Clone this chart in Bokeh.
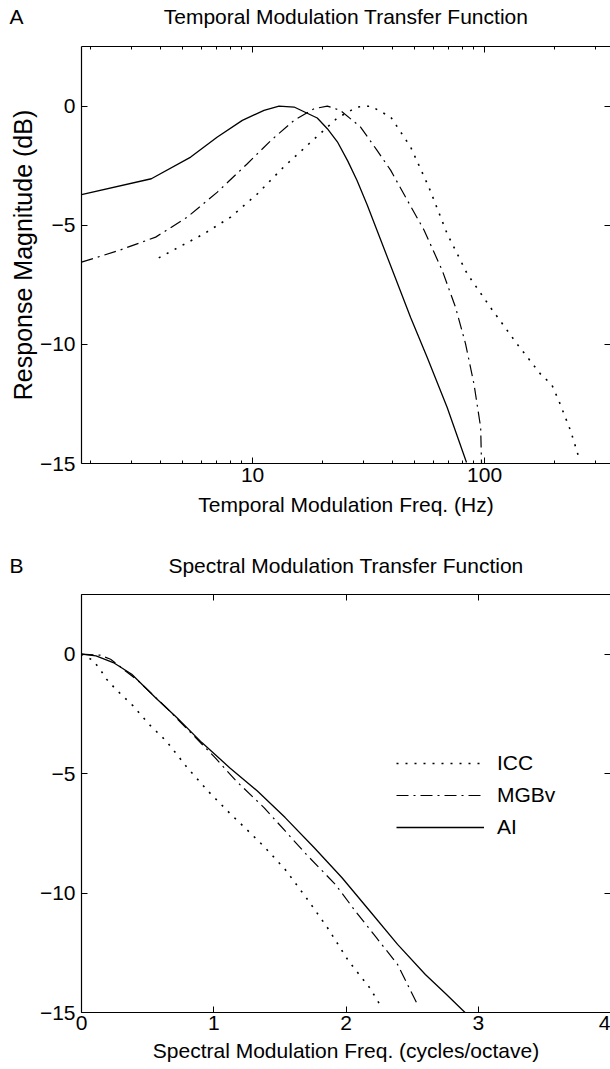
from bokeh.plotting import figure
from bokeh.models import (FixedTicker, CustomJSTickFormatter, LinearAxis, LogAxis,
                          Range1d, Label, Legend, LegendItem)
from bokeh.layouts import column
from bokeh.embed import file_html
from bokeh.resources import INLINE

FONT = "Liberation Sans"
FS = "21px"

# ---------------- Panel A: Temporal MTF (x = Hz, log) ----------------
tmtf_ai_freq = [1.83, 3.66, 5.41, 7.05, 9.03, 11.2, 13.0, 15.1, 17.2, 19.0, 21.0, 23.2,
                25.7, 28.2, 31.2, 34.4, 40.6, 48.0, 56.6, 69.0, 83.6]
tmtf_ai_db = [-3.72, -3.05, -2.14, -1.30, -0.60, -0.18, 0.0, -0.04, -0.30, -0.50, -0.95, -1.50,
              -2.30, -3.12, -4.15, -5.22, -7.04, -8.87, -10.55, -12.65, -14.96]

tmtf_mgbv_freq = [1.83, 2.65, 3.82, 5.23, 7.05, 9.49, 12.0, 15.1, 18.4, 21.0, 23.9, 29.2,
                  34.4, 39.4, 46.5, 54.8, 65.7, 75.0, 82.8, 90.0, 96.2, 97.0]
tmtf_mgbv_db = [-6.55, -6.06, -5.50, -4.66, -3.61, -2.42, -1.44, -0.60, -0.11, 0.0, -0.18, -0.88,
                -1.86, -2.70, -3.96, -5.20, -6.90, -8.45, -9.98, -11.66, -13.49, -15.0]

tmtf_icc_freq = [3.94, 4.81, 6.17, 8.04, 10.5, 13.6, 17.2, 23.2, 28.2, 32.3, 39.4, 48.0,
                 57.5, 69.0, 84.2, 106, 138, 174, 195, 209, 235, 255]
tmtf_icc_db = [-6.37, -5.92, -5.36, -4.66, -3.68, -2.56, -1.65, -0.50, -0.04, 0.0, -0.46, -1.72,
               -3.40, -5.36, -7.04, -8.45, -9.98, -11.24, -11.70, -12.37, -13.63, -14.75]

# ---------------- Panel B: Spectral MTF (x = cycles/octave) ----------------
smtf_ai_x = [0.0, 0.11, 0.24, 0.38, 0.56, 0.72, 0.91, 1.12, 1.33, 1.54, 1.76, 1.97,
             2.18, 2.39, 2.60, 2.76, 2.90]
smtf_ai_db = [0.0, -0.07, -0.35, -0.84, -1.82, -2.65, -3.70, -4.75, -5.73, -6.84, -8.10, -9.36,
              -10.75, -12.15, -13.41, -14.25, -15.0]

smtf_mgbv_x = [0.0, 0.14, 0.22, 0.43, 0.64, 0.85, 1.01, 1.17, 1.38, 1.54, 1.70, 1.92,
               2.07, 2.23, 2.39, 2.54]
smtf_mgbv_db = [0.0, -0.04, -0.21, -1.12, -2.23, -3.42, -4.33, -5.31, -6.42, -7.40, -8.38, -9.64,
                -10.75, -11.87, -12.99, -14.66]

smtf_icc_x = [0.0, 0.085, 0.14, 0.19, 0.26, 0.32, 0.39, 0.51, 0.64, 0.80, 0.96, 1.12,
              1.27, 1.38, 1.54, 1.70, 1.86, 2.02, 2.18, 2.27]
smtf_icc_db = [0.0, -0.25, -0.63, -1.05, -1.47, -1.79, -2.16, -2.93, -3.63, -4.75, -5.75, -6.65,
               -7.45, -8.05, -9.01, -10.20, -11.45, -12.85, -13.97, -14.80]

y_ticks = [-15, -10, -5, 0]
tmtf_x_ticks = [10, 100]
tmtf_x_minor = [2, 3, 4, 5, 6, 7, 8, 9, 20, 30, 40, 50, 60, 70, 80, 90, 200, 300]
smtf_x_ticks = [0, 1, 2, 3, 4]

labels_series = ["ICC", "MGBv", "AI"]
titles = ["Temporal Modulation Transfer Function", "Spectral Modulation Transfer Function"]
xlabels = ["Temporal Modulation Freq. (Hz)", "Spectral Modulation Freq. (cycles/octave)"]
ylabel = "Response Magnitude (dB)"
panel_tags = ["A", "B"]

Y_MIN, Y_MAX = -15, 2.5
TX_MIN, TX_MAX = 1.83, 349
SX_MIN, SX_MAX = 0, 4

WIDTH = 610
LEFT = 81
FRAME_W = WIDTH - LEFT
FRAME_H_A = 417

minus_fmt = CustomJSTickFormatter(code="return tick < 0 ? '\\u2212' + Math.abs(tick) : String(tick);")
empty_fmt = "return '';"

STYLES = {
    "ICC": dict(line_dash="2 7", line_width=1.6),
    "MGBv": dict(line_dash="12 5 2 5", line_width=1.2),
    "AI": dict(line_dash="solid", line_width=1.3),
}


def style_axis(ax, major_in=6, minor_in=3):
    ax.major_tick_in = major_in
    ax.major_tick_out = 0
    ax.minor_tick_in = minor_in
    ax.minor_tick_out = 0
    ax.axis_line_color = "black"
    ax.axis_line_width = 1.2
    ax.major_tick_line_color = "black"
    ax.minor_tick_line_color = "black"
    ax.major_label_text_font = FONT
    ax.major_label_text_font_size = FS
    ax.major_label_text_color = "black"
    ax.axis_label_text_font = FONT
    ax.axis_label_text_font_size = FS
    ax.axis_label_text_font_style = "normal"
    ax.axis_label_text_color = "black"


def bare_axis(ax):
    style_axis(ax)
    ax.major_label_text_font_size = "0px"
    ax.major_label_standoff = 0


def make_header(height, tag, title, cy):
    # a thin strip above each panel; its frame lines up with the panel frame
    h = figure(width=WIDTH, height=height, x_range=Range1d(LEFT, WIDTH),
               y_range=Range1d(height, 0), x_axis_location=None,
               output_backend="svg", toolbar_location=None)
    h.min_border = 0
    h.min_border_left = LEFT
    h.outline_line_color = None
    h.grid.visible = False
    h.background_fill_color = "white"
    h.border_fill_color = "white"
    ax = h.yaxis[0]
    ax.ticker = FixedTicker(ticks=[cy], minor_ticks=[])
    ax.formatter = CustomJSTickFormatter(code="return '%s';" % tag)
    ax.axis_line_color = None
    ax.major_tick_line_color = None
    ax.minor_tick_line_color = None
    ax.major_tick_in = 0
    ax.major_tick_out = 0
    ax.major_label_standoff = 58
    ax.major_label_text_font = FONT
    ax.major_label_text_font_size = FS
    ax.major_label_text_color = "black"
    h.add_layout(Label(x=LEFT + FRAME_W / 2, y=cy, text=title, text_align="center",
                       text_baseline="middle", text_font=FONT, text_font_size=FS,
                       text_color="black"))
    return h


def make_panel(height, top, log, frame_h):
    kw = dict(width=WIDTH, height=height, y_range=Range1d(Y_MIN, Y_MAX),
              output_backend="svg", toolbar_location=None)
    if log:
        p = figure(x_axis_type="log", x_range=Range1d(TX_MIN, TX_MAX), **kw)
    else:
        p = figure(x_range=Range1d(SX_MIN, SX_MAX), **kw)
    p.min_border_left = LEFT
    p.min_border_right = 0
    p.min_border_top = top
    p.min_border_bottom = height - top - frame_h
    p.outline_line_color = None
    p.xgrid.visible = False
    p.ygrid.visible = False
    p.background_fill_color = "white"
    p.border_fill_color = "white"
    return p


# ---------------- header A + panel A ----------------
hA = make_header(38, panel_tags[0], titles[0], 16.3)

pA = make_panel(502, 8, True, FRAME_H_A)
xa = pA.xaxis[0]
xa.ticker = FixedTicker(ticks=tmtf_x_ticks, minor_ticks=tmtf_x_minor)
xa.formatter = CustomJSTickFormatter(code="return String(Math.round(tick));")
xa.axis_label = xlabels[0]
style_axis(xa)
xa.major_label_standoff = 4
xa.axis_label_standoff = 8
ya = pA.yaxis[0]
ya.ticker = FixedTicker(ticks=y_ticks, minor_ticks=[])
ya.formatter = minus_fmt
style_axis(ya)
ya.major_label_standoff = 6

# y label carried by a second, invisible left axis whose bounds put the
# label's centre a little above the middle of the frame (as in the original)
label_shift_px = 21
span = (Y_MAX - Y_MIN) * (1 - 2 * label_shift_px / FRAME_H_A)
ylab_axis = LinearAxis(ticker=FixedTicker(ticks=[], minor_ticks=[]),
                       formatter=CustomJSTickFormatter(code=empty_fmt),
                       bounds=(Y_MAX - span, Y_MAX))
bare_axis(ylab_axis)
ylab_axis.axis_line_color = None
ylab_axis.major_tick_line_color = None
ylab_axis.minor_tick_line_color = None
ylab_axis.axis_label = ylabel
ylab_axis.axis_label_text_font_size = "25px"
ylab_axis.axis_label_standoff = 0
pA.add_layout(ylab_axis, "left")

topA = LogAxis(ticker=FixedTicker(ticks=tmtf_x_ticks, minor_ticks=tmtf_x_minor),
               formatter=CustomJSTickFormatter(code=empty_fmt))
bare_axis(topA)
pA.add_layout(topA, "above")
rightA = LinearAxis(ticker=FixedTicker(ticks=y_ticks, minor_ticks=[]),
                    formatter=CustomJSTickFormatter(code=empty_fmt))
bare_axis(rightA)
rightA.axis_line_color = None
pA.add_layout(rightA, "right")

rA = {}
rA["ICC"] = pA.line(tmtf_icc_freq, tmtf_icc_db, line_color="black", **STYLES["ICC"])
rA["MGBv"] = pA.line(tmtf_mgbv_freq, tmtf_mgbv_db, line_color="black", **STYLES["MGBv"])
rA["AI"] = pA.line(tmtf_ai_freq, tmtf_ai_db, line_color="black", **STYLES["AI"])

# ---------------- header B + panel B ----------------
hB = make_header(46, panel_tags[1], titles[1], 25)

pB = make_panel(483, 8, False, 418)
xb = pB.xaxis[0]
xb.ticker = FixedTicker(ticks=smtf_x_ticks, minor_ticks=[])
xb.formatter = CustomJSTickFormatter(code="return String(tick);")
xb.axis_label = xlabels[1]
style_axis(xb)
xb.major_label_standoff = 3
xb.axis_label_standoff = 6
yb = pB.yaxis[0]
yb.ticker = FixedTicker(ticks=y_ticks, minor_ticks=[])
yb.formatter = minus_fmt
style_axis(yb)
yb.major_label_standoff = 6

topB = LinearAxis(ticker=FixedTicker(ticks=smtf_x_ticks, minor_ticks=[]),
                  formatter=CustomJSTickFormatter(code=empty_fmt))
bare_axis(topB)
pB.add_layout(topB, "above")
rightB = LinearAxis(ticker=FixedTicker(ticks=y_ticks, minor_ticks=[]),
                    formatter=CustomJSTickFormatter(code=empty_fmt))
bare_axis(rightB)
rightB.axis_line_color = None
pB.add_layout(rightB, "right")

rB = {}
rB["ICC"] = pB.line(smtf_icc_x, smtf_icc_db, line_color="black", **STYLES["ICC"])
rB["MGBv"] = pB.line(smtf_mgbv_x, smtf_mgbv_db, line_color="black", **STYLES["MGBv"])
rB["AI"] = pB.line(smtf_ai_x, smtf_ai_db, line_color="black", **STYLES["AI"])

legend = Legend(items=[LegendItem(label=s, renderers=[rB[s]]) for s in labels_series],
                location=(315, 173), padding=0, margin=0,
                border_line_color=None, background_fill_alpha=0,
                glyph_width=88, glyph_height=22, label_height=22,
                label_standoff=13, spacing=8,
                label_text_font=FONT, label_text_font_size=FS, label_text_color="black")
pB.add_layout(legend)

layout = column(hA, pA, hB, pB, spacing=0)
open("out.html", "w").write(file_html(layout, INLINE))
